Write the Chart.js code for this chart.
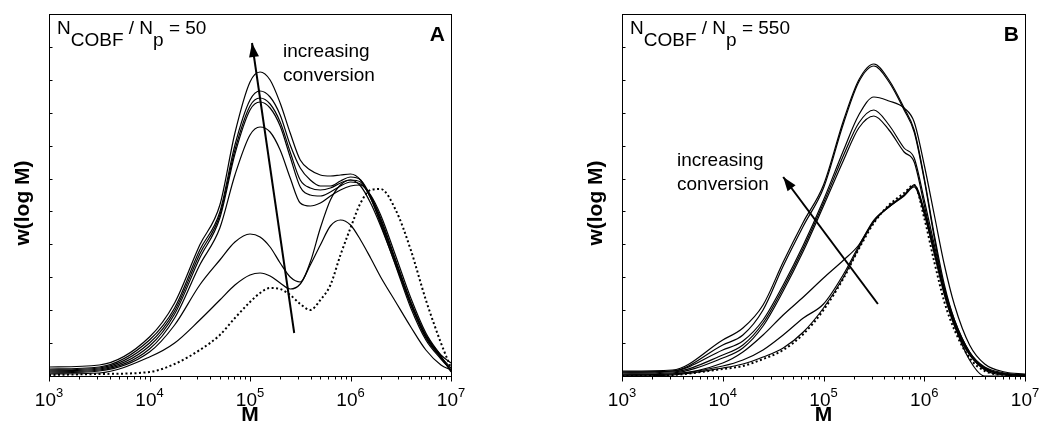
<!DOCTYPE html>
<html>
<head>
<meta charset="utf-8">
<script src="https://cdn.jsdelivr.net/npm/chart.js@4/dist/chart.umd.min.js"></script>
<style>
  html, body { margin: 0; padding: 0; background: #fff; }
  #wrap { position: relative; width: 1041px; height: 442px; }
  canvas { position: absolute; top: 0; }
  #chartA { left: 0; }
  #chartB { left: 520px; }
</style>
</head>
<body>
<div id="wrap">
  <canvas id="chartA" width="520" height="442"></canvas>
  <canvas id="chartB" width="521" height="442"></canvas>
</div>
<script>
// x axis decades (10^3 .. 10^7)
const decades = [3, 4, 5, 6, 7];

// panel A: N_COBF / N_p = 50  (log10 M and w(log M), arbitrary units)
const logMA = [3, 3.5, 4, 4.25, 4.5, 4.7, 4.85, 5.0, 5.1, 5.2, 5.3, 5.4, 5.5, 5.6, 5.7, 5.8, 5.9, 6.0, 6.1, 6.2, 6.3, 6.45, 6.6, 6.75, 6.9, 7];
const wA1 = [9, 11, 39, 73, 131, 171, 243, 294, 304, 296, 273, 243, 216, 206, 201, 200, 201, 202, 196, 178, 154, 114, 74, 41, 21, 13];
const wA2 = [7, 9, 36, 68, 126, 164, 231, 276, 285, 279, 261, 231, 208, 196, 190, 190, 195, 199, 196, 180, 156, 114, 72, 38, 18, 6];
const wA3 = [6, 8, 33, 65, 122, 161, 226, 270, 278, 272, 254, 224, 196, 188, 186, 188, 193, 196, 194, 178, 152, 110, 68, 36, 17, 6];
const wA4 = [5, 7, 30, 62, 118, 158, 222, 266, 274, 268, 250, 219, 189, 181, 180, 184, 190, 194, 192, 180, 158, 116, 74, 40, 19, 5];
const wA5 = [4, 6, 27, 58, 111, 148, 201, 241, 249, 244, 226, 198, 173, 170, 173, 180, 186, 190, 191, 181, 161, 120, 78, 43, 20, 4];
const wA6 = [3, 5, 24, 51, 91, 116, 134, 142, 139, 129, 113, 99, 94, 114, 148, 176, 191, 196, 190, 173, 150, 111, 71, 39, 19, 8];
const wA7 = [2, 3, 19, 33, 56, 76, 91, 101, 103, 100, 93, 87, 92, 111, 131, 150, 156, 151, 136, 118, 99, 74, 49, 26, 11, 6];
const wA0 = [1, 2, 4, 12, 26, 41, 58, 74, 83, 88, 87, 81, 72, 66, 76, 91, 121, 148, 173, 186, 187, 166, 126, 76, 33, 8];
const arrowALogM = [5.44, 5.02];
const arrowAW = [43, 333];

// panel B: N_COBF / N_p = 550
const logMB = [3, 3.5, 4, 4.2, 4.4, 4.6, 4.8, 5.0, 5.2, 5.35, 5.5, 5.65, 5.8, 5.9, 6.0, 6.1, 6.2, 6.3, 6.45, 6.6, 6.8, 7];
const wB1 = [5, 6, 36, 48, 71, 114, 154, 191, 256, 296, 312, 296, 268, 246, 198, 141, 91, 56, 24, 8, 2, 1];
const wB2 = [4, 5, 31, 41, 66, 110, 150, 188, 253, 294, 310, 294, 266, 244, 196, 138, 86, 53, 22, 7, 2, 1];
const wB3 = [4, 5, 26, 35, 56, 91, 131, 176, 226, 261, 279, 275, 268, 254, 211, 161, 111, 71, 31, 12, 4, 2];
const wB4 = [3, 4, 21, 31, 53, 88, 128, 173, 221, 253, 266, 251, 228, 218, 176, 131, 88, 56, 24, 9, 3, 1];
const wB5 = [2, 3, 18, 28, 50, 85, 125, 170, 216, 248, 260, 246, 224, 214, 171, 126, 84, 51, 16, 0, 0, 0];
const wB6 = [1, 2, 13, 24, 41, 61, 79, 98, 116, 131, 156, 169, 181, 190, 164, 124, 83, 52, 22, 8, 2, 1];
const wB7 = [1, 2, 10, 16, 26, 41, 58, 72, 102, 130, 155, 169, 180, 189, 162, 122, 81, 50, 21, 7, 2, 1];
const wB8 = [0, 1, 8, 12, 19, 28, 44, 68, 99, 128, 154, 170, 181, 191, 166, 126, 84, 53, 22, 6, 1, 0];
const wB0 = [0, 1, 7, 10, 17, 26, 42, 66, 98, 127, 153, 171, 183, 191, 158, 114, 74, 46, 18, 5, 1, 0];
const arrowBLogM = [5.54, 4.60];
const arrowBW = [72, 199];

const FONT = '"Liberation Sans", Arial, Helvetica, sans-serif';

function toPoints(logM, w) {
    return logM.map((lm, i) => ({ x: Math.pow(10, lm), y: w[i] }));
}

// draws subscript text runs: [text, isSub]
function drawRuns(ctx, runs, x, y, size, subDrop) {
    ctx.font = `${size}px ${FONT}`;
    let cx = x;
    runs.forEach(([t, sub]) => {
        ctx.fillText(t, cx, sub ? y + subDrop : y);
        cx += ctx.measureText(t).width;
    });
}

const figurePlugin = {
    id: "figure",
    afterDatasetsDraw(chart, args, opts) {
        const ctx = chart.ctx;
        const area = chart.chartArea;
        const xs = chart.scales.x;
        const ys = chart.scales.y;
        ctx.save();
        ctx.fillStyle = "#000";
        ctx.strokeStyle = "#000";

        // arrow head at the end of the arrow dataset
        const meta = chart.getDatasetMeta(chart.data.datasets.length - 1);
        const p0 = meta.data[0], p1 = meta.data[1];
        const ang = Math.atan2(p1.y - p0.y, p1.x - p0.x);
        const len = 14, half = 5;
        const bx = p1.x - len * Math.cos(ang), by = p1.y - len * Math.sin(ang);
        ctx.beginPath();
        ctx.moveTo(p1.x, p1.y);
        ctx.lineTo(bx + half * Math.sin(ang), by - half * Math.cos(ang));
        ctx.lineTo(bx - half * Math.sin(ang), by + half * Math.cos(ang));
        ctx.closePath();
        ctx.fill();

        // frame
        ctx.lineWidth = 1;
        const L = Math.round(area.left) + 0.5, R = Math.round(area.right) + 0.5;
        const T = Math.round(area.top) + 0.5, B = Math.round(area.bottom) + 0.5;
        ctx.strokeRect(L, T, R - L, B - T);

        // x ticks (outward), minor ones shorter
        ctx.beginPath();
        decades.forEach((d) => {
            for (let m = 1; m <= 9; m++) {
                if (d === 7 && m > 1) break;
                const px = Math.round(xs.getPixelForValue(m * Math.pow(10, d))) + 0.5;
                ctx.moveTo(px, B);
                ctx.lineTo(px, B + (m === 1 ? 5 : 3));
            }
        });
        // y ticks (inward)
        ys.ticks.forEach((t) => {
            if (t.value <= ys.min || t.value >= ys.max) return;
            const py = Math.round(ys.getPixelForValue(t.value)) + 0.5;
            ctx.moveTo(L, py);
            ctx.lineTo(L + 3, py);
        });
        ctx.stroke();

        // x tick labels 10^n
        ctx.textAlign = "left";
        ctx.textBaseline = "alphabetic";
        decades.forEach((d) => {
            const px = xs.getPixelForValue(Math.pow(10, d));
            ctx.font = `19px ${FONT}`;
            const wBase = ctx.measureText("10").width;
            ctx.font = `13px ${FONT}`;
            const wExp = ctx.measureText(String(d)).width;
            const x0 = px - (wBase + wExp) / 2;
            ctx.font = `19px ${FONT}`;
            ctx.fillText("10", x0, area.bottom + 30);
            ctx.font = `13px ${FONT}`;
            ctx.fillText(String(d), x0 + wBase, area.bottom + 21);
        });

        // axis titles
        ctx.font = `bold 21px ${FONT}`;
        ctx.textAlign = "center";
        ctx.fillText("M", (area.left + area.right) / 2, area.bottom + 45);
        ctx.save();
        ctx.translate(area.left - 20, (area.top + area.bottom) / 2 + 8);
        ctx.rotate(-Math.PI / 2);
        ctx.fillText("w(log M)", 0, 0);
        ctx.restore();

        // panel letter
        ctx.textAlign = "right";
        ctx.fillText(opts.letter, area.right - 6, area.top + 27);

        // ratio annotation
        ctx.textAlign = "left";
        drawRuns(ctx, [["N", false], ["COBF", true], [" / N", false], ["p", true], [" = " + opts.ratio, false]],
            area.left + 8, area.top + 20, 19, 12);

        // arrow caption
        ctx.font = `19px ${FONT}`;
        ctx.fillText("increasing", area.left + opts.captionDx, area.top + opts.captionDy);
        ctx.fillText("conversion", area.left + opts.captionDx, area.top + opts.captionDy + 24);

        ctx.restore();
    },
};

function makePanel(canvasId, logM, series, start, arrowLogM, arrowW, padding, figure) {
    const datasets = series.map((w) => ({
        data: toPoints(logM, w),
        borderColor: "#000",
        borderWidth: 1.2,
        pointRadius: 0,
        fill: false,
        cubicInterpolationMode: "monotone",
    }));
    datasets.push({
        data: toPoints(logM, start),
        borderColor: "#000",
        borderWidth: 2,
        borderDash: [2, 2.5],
        pointRadius: 0,
        fill: false,
        cubicInterpolationMode: "monotone",
    });
    datasets.push({
        data: toPoints(arrowLogM, arrowW),
        borderColor: "#000",
        borderWidth: 2,
        pointRadius: 0,
        fill: false,
        tension: 0,
    });

    new Chart(document.getElementById(canvasId), {
        type: "line",
        data: { datasets: datasets },
        options: {
            responsive: false,
            animation: false,
            events: [],
            layout: { padding: padding },
            scales: {
                x: { type: "logarithmic", min: 1e3, max: 1e7, display: false },
                y: { type: "linear", min: 0, max: 362, display: false, ticks: { stepSize: 33 } },
            },
            plugins: {
                legend: { display: false },
                tooltip: { enabled: false },
                figure: figure,
            },
        },
        plugins: [figurePlugin],
    });
}

makePanel("chartA", logMA, [wA1, wA2, wA3, wA4, wA5, wA6, wA7], wA0, arrowALogM, arrowAW,
    { left: 49, right: 69, top: 14, bottom: 66 },
    { letter: "A", ratio: "50", captionDx: 234, captionDy: 43 });

makePanel("chartB", logMB, [wB1, wB2, wB3, wB4, wB5, wB6, wB7, wB8], wB0, arrowBLogM, arrowBW,
    { left: 102, right: 16, top: 14, bottom: 66 },
    { letter: "B", ratio: "550", captionDx: 55, captionDy: 152 });
</script>
</body>
</html>
